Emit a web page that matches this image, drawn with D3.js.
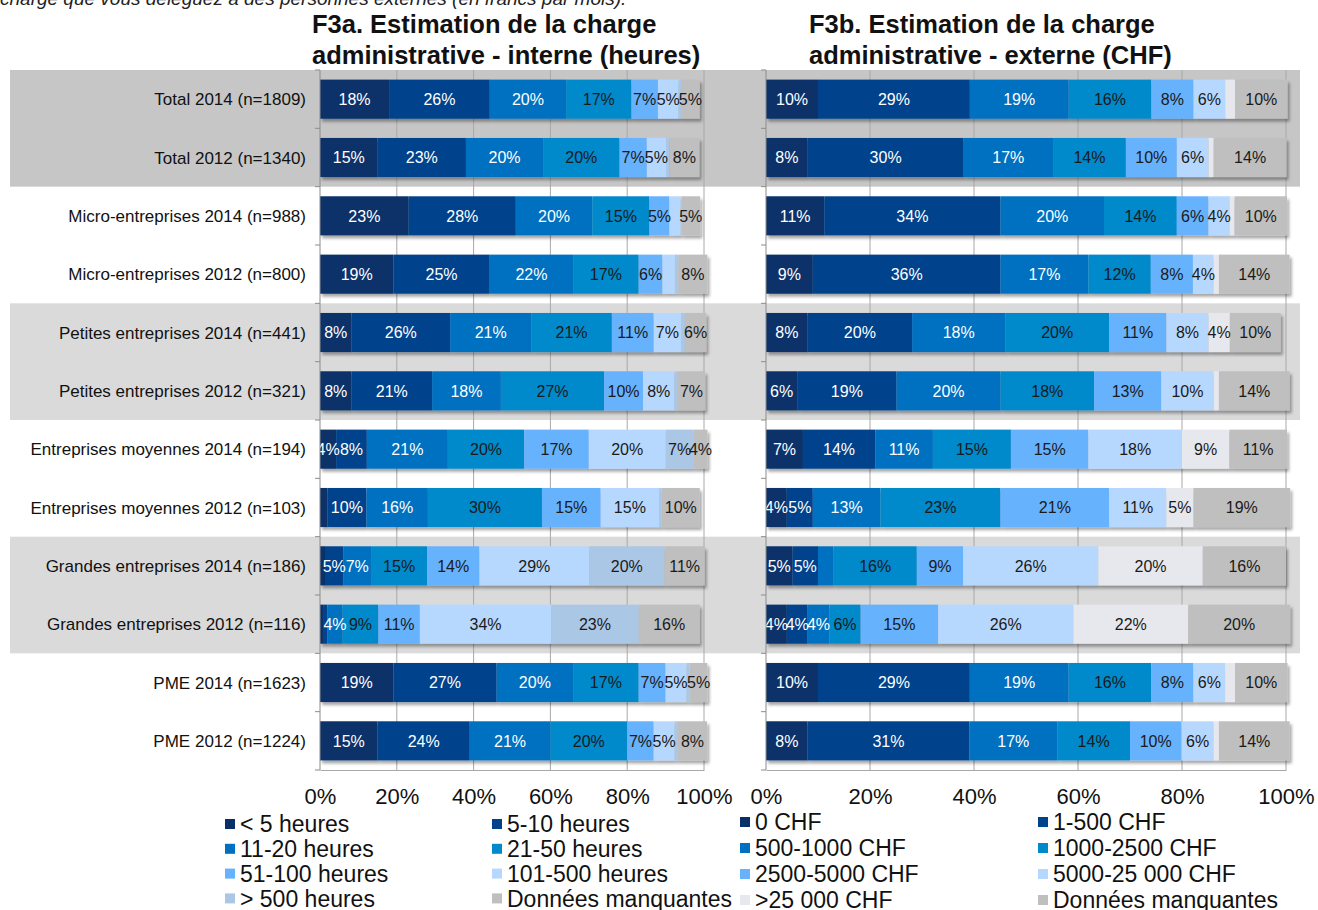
<!DOCTYPE html>
<html>
<head>
<meta charset="utf-8">
<script src="https://cdn.jsdelivr.net/npm/d3@7"></script>
<style>
  body { margin: 0; background: #fff; }
  svg { display: block; font-family: "Liberation Sans", Arial, sans-serif; }
</style>
</head>
<body>
<svg id="chart" width="1318" height="910"></svg>
<script>
// categories (rows, top to bottom)
const categories = [
  "Total 2014 (n=1809)", "Total 2012 (n=1340)",
  "Micro-entreprises 2014 (n=988)", "Micro-entreprises 2012 (n=800)",
  "Petites entreprises 2014 (n=441)", "Petites entreprises 2012 (n=321)",
  "Entreprises moyennes 2014 (n=194)", "Entreprises moyennes 2012 (n=103)",
  "Grandes entreprises 2014 (n=186)", "Grandes entreprises 2012 (n=116)",
  "PME 2014 (n=1623)", "PME 2012 (n=1224)"
];

const seriesInterne = ["< 5 heures", "5-10 heures", "11-20 heures", "21-50 heures",
  "51-100 heures", "101-500 heures", "> 500 heures", "Données manquantes"];
const seriesExterne = ["0 CHF", "1-500 CHF", "500-1000 CHF", "1000-2500 CHF",
  "2500-5000 CHF", "5000-25 000 CHF", ">25 000 CHF", "Données manquantes"];

// % per row, in series order
const interne = [
  [18.0, 26.2, 19.9, 17.0, 6.9, 5.4, 0.6, 4.9],
  [15.0, 23.0, 20.1, 19.9, 7.1, 5.0, 0.9, 7.8],
  [23.1, 27.9, 19.9, 14.9, 5.2, 2.9, 0.2, 4.9],
  [19.1, 25.1, 21.7, 17.1, 6.2, 3.2, 0.9, 7.6],
  [8.2, 25.7, 21.1, 21.0, 10.9, 7.1, 1.0, 5.6],
  [8.2, 21.0, 17.9, 26.9, 10.1, 8.2, 0.9, 7.1],
  [4.2, 8.0, 21.1, 19.9, 16.8, 20.0, 7.3, 3.6],
  [1.9, 10.2, 16.0, 29.7, 15.3, 15.2, 0.7, 9.9],
  [1.3, 4.8, 7.2, 14.6, 13.6, 28.6, 19.6, 10.5],
  [1.0, 0.9, 4.0, 9.3, 10.8, 34.2, 22.8, 15.9],
  [19.1, 26.9, 19.9, 17.1, 7.0, 5.4, 0.9, 4.6],
  [15.0, 24.0, 21.0, 20.0, 6.9, 5.4, 0.9, 7.6]
];
const externe = [
  [10.0, 29.2, 19.0, 15.9, 8.1, 6.1, 1.9, 10.1],
  [8.0, 30.0, 17.2, 14.0, 9.8, 6.1, 1.0, 14.0],
  [11.2, 33.9, 19.9, 14.0, 6.1, 4.1, 0.9, 10.1],
  [9.0, 36.1, 16.9, 12.0, 8.1, 4.0, 1.0, 13.6],
  [8.0, 20.1, 17.9, 20.0, 11.0, 8.1, 4.1, 9.8],
  [6.0, 19.1, 20.0, 18.0, 12.9, 10.1, 1.0, 13.6],
  [7.1, 13.9, 11.1, 15.0, 14.9, 18.0, 9.1, 11.1],
  [4.0, 5.0, 13.0, 23.1, 20.9, 11.0, 5.2, 18.6],
  [5.1, 4.9, 3.0, 16.0, 8.9, 26.0, 20.1, 16.0],
  [4.0, 4.0, 4.2, 6.0, 14.9, 26.0, 22.1, 19.6],
  [10.0, 29.2, 19.0, 15.9, 8.1, 6.1, 1.9, 10.1],
  [8.0, 31.1, 16.9, 14.0, 9.9, 6.2, 1.0, 13.6]
];

const ticks = [0, 20, 40, 60, 80, 100];
const shadedRows = [[0, 1, "#c6c6c6"], [4, 5, "#dadada"], [8, 9, "#dadada"]];

const coloursInterne = ["#07306a", "#00438b", "#0070c0", "#0089cb", "#66b2fd", "#b7d8fe", "#aac7e6", "#bfbfbf"];
const coloursExterne = ["#07306a", "#00438b", "#0070c0", "#0089cb", "#66b2fd", "#b7d8fe", "#e6e8ed", "#bfbfbf"];

const svg = d3.select("#chart");
const plotTop = 70, plotBottom = 770;

// drop shadow for bars
svg.append("defs").append("filter")
    .attr("id", "shadow").attr("x", "-5%").attr("y", "-20%")
    .attr("width", "115%").attr("height", "170%")
  .append("feDropShadow")
    .attr("dx", 2).attr("dy", 3).attr("stdDeviation", 1.8)
    .attr("flood-color", "#000").attr("flood-opacity", 0.35);

const y = d3.scaleBand().domain(categories).range([plotTop, plotBottom])
  .paddingInner(0.33).paddingOuter(0.165);
const step = y.step();

// shaded row bands behind both panels
shadedRows.forEach(([a, b, c]) => {
  svg.append("rect")
    .attr("x", 10).attr("y", plotTop + a * step)
    .attr("width", 1290).attr("height", (b - a + 1) * step)
    .attr("fill", c);
});

// top line of text, cut by the page edge (as in the source)
svg.append("text")
  .attr("x", 0).attr("y", 5)
  .attr("font-size", 19).attr("font-style", "italic").attr("fill", "#222")
  .text("charge que vous déléguez à des personnes externes (en francs par mois).");

const panels = [
  { x0: 320, x1: 704, data: interne, colours: coloursInterne, titleX: 312,
    title: ["F3a. Estimation de la charge", "administrative - interne (heures)"] },
  { x0: 766, x1: 1286, data: externe, colours: coloursExterne, titleX: 809,
    title: ["F3b. Estimation de la charge", "administrative - externe (CHF)"] }
];

panels.forEach((p, pi) => {
  const x = d3.scaleLinear().domain([0, 100]).range([p.x0, p.x1]);
  const g = svg.append("g");

  // titles
  p.title.forEach((t, i) => {
    g.append("text").attr("x", p.titleX).attr("y", 33 + i * 31)
      .attr("font-size", 25.5).attr("font-weight", "bold").attr("fill", "#111")
      .text(t);
  });

  // gridlines
  g.selectAll("line.grid").data(ticks.slice(1)).join("line")
    .attr("x1", d => x(d)).attr("x2", d => x(d))
    .attr("y1", plotTop).attr("y2", plotBottom)
    .attr("stroke", "#a8a8a8").attr("stroke-width", 1);

  // stacked bars
  const keys = d3.range(8);
  const rows = p.data.map((vals, i) => Object.assign({ cat: categories[i] }, vals));
  const stacked = d3.stack().keys(keys)(rows);

  const rowG = g.selectAll("g.row").data(rows).join("g")
    .attr("filter", "url(#shadow)");
  rowG.selectAll("rect").data((d, i) => stacked.map(s => s[i])).join("rect")
    .attr("x", d => x(d[0]))
    .attr("y", d => y(d.data.cat))
    .attr("width", d => x(d[1]) - x(d[0]))
    .attr("height", y.bandwidth())
    .attr("fill", (d, k) => p.colours[k]);

  // labels
  stacked.forEach((s, k) => {
    g.selectAll(null).data(s.filter(d => d[1] - d[0] >= 3.5)).join("text")
      .attr("x", d => (x(d[0]) + x(d[1])) / 2)
      .attr("y", d => y(d.data.cat) + y.bandwidth() / 2)
      .attr("dy", "0.36em")
      .attr("text-anchor", "middle")
      .attr("font-size", 16)
      .attr("fill", k < 3 ? "#fff" : "#1a1a1a")
      .text(d => Math.round(d[1] - d[0]) + "%");
  });

  // vertical axis line and ticks between rows
  g.append("line").attr("x1", p.x0).attr("x2", p.x0).attr("y1", plotTop).attr("y2", plotBottom)
    .attr("stroke", "#8c8c8c");
  g.selectAll("line.tk").data(d3.range(13)).join("line")
    .attr("x1", p.x0 - 5).attr("x2", p.x0)
    .attr("y1", d => plotTop + d * step).attr("y2", d => plotTop + d * step)
    .attr("stroke", "#8c8c8c");

  // bottom axis
  const ax = g.append("g").attr("transform", `translate(0,${plotBottom})`)
    .call(d3.axisBottom(x).tickValues(ticks).tickFormat(d => d + "%")
      .tickSize(0).tickSizeOuter(0).tickPadding(18));
  ax.select(".domain").attr("stroke", "#a8a8a8");
  ax.selectAll("text").attr("font-size", 22).attr("fill", "#111")
    .attr("font-family", "Liberation Sans, Arial, sans-serif");

  // category labels on the left panel only
  if (pi === 0) {
    g.selectAll("text.cat").data(categories).join("text")
      .attr("x", 306).attr("y", d => y(d) + y.bandwidth() / 2)
      .attr("dy", "0.36em").attr("text-anchor", "end")
      .attr("font-size", 17).attr("fill", "#111")
      .text(d => d);
  }
});

// legends
const legends = [
  { names: seriesInterne, colours: coloursInterne, cols: [225, 492], y0: 824, dy: 24.8 },
  { names: seriesExterne, colours: coloursExterne, cols: [740, 1038], y0: 822, dy: 26 }
];
legends.forEach(L => {
  L.names.forEach((n, i) => {
    const lx = L.cols[i % 2], ly = L.y0 + Math.floor(i / 2) * L.dy;
    svg.append("rect").attr("x", lx).attr("y", ly - 5)
      .attr("width", 10).attr("height", 10).attr("fill", L.colours[i]);
    svg.append("text").attr("x", lx + 15).attr("y", ly).attr("dy", "0.36em")
      .attr("font-size", 23).attr("fill", "#111").text(n);
  });
});
</script>
</body>
</html>
